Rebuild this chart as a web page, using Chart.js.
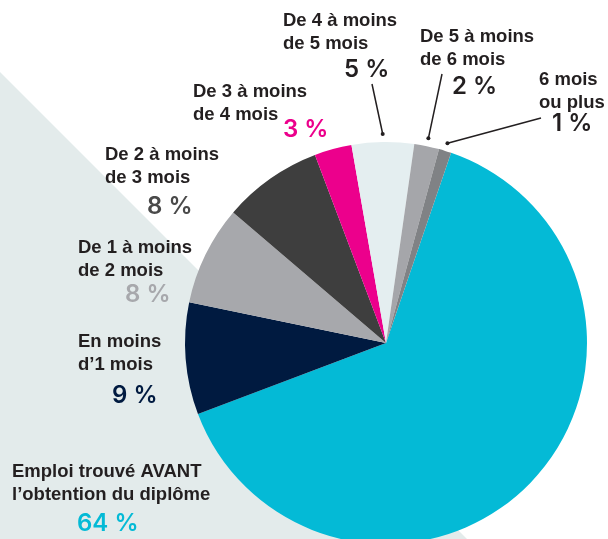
<!DOCTYPE html>
<html>
<head>
<meta charset="utf-8">
<script src="https://cdn.jsdelivr.net/npm/chart.js@4/dist/chart.umd.min.js"></script>
<style>
  html, body { margin: 0; padding: 0; background: #fff; overflow: hidden; }
  #wrap { width: 608px; height: 539px; overflow: hidden; position: relative; }
  canvas { display: block; }
</style>
</head>
<body>
<div id="wrap"><canvas id="myChart" width="608" height="560"></canvas></div>
<script>
// data, clockwise from the cyan slice
const categories = [
    "Emploi trouvé AVANT\nl’obtention du diplôme",
    "En moins\nd’1 mois",
    "De 1 à moins\nde 2 mois",
    "De 2 à moins\nde 3 mois",
    "De 3 à moins\nde 4 mois",
    "De 4 à moins\nde 5 mois",
    "De 5 à moins\nde 6 mois",
    "6 mois\nou plus",
];
const shares = [64, 9, 8, 8, 3, 5, 2, 1];

const sliceColors = ["#04BAD6", "#001A40", "#A7A8AC", "#3E3E3E", "#EC008C", "#E4EEF0", "#A5A6AA", "#808285"];
const valueColors = ["#04BAD6", "#001A40", "#A7A8AC", "#4A4A4A", "#EC008C", "#231F20", "#231F20", "#231F20"];

// where each label sits (left x, middle of first line, value left x, value middle y)
const labelPos = [
    { x: 12, y: 472, vx: 77, vy: 524 },
    { x: 78, y: 342, vx: 112, vy: 396 },
    { x: 78, y: 248, vx: 125, vy: 295 },
    { x: 105, y: 155, vx: 147, vy: 207 },
    { x: 193, y: 92, vx: 283, vy: 130 },
    { x: 283, y: 21, vx: 344, vy: 70, lead: [372, 84] },
    { x: 420, y: 37, vx: 452, vy: 87, lead: [442, 74] },
    { x: 539, y: 80, vx: 552, vy: 124, lead: [541, 118] },
];

const bgPlugin = {
    id: "bg",
    beforeDraw(chart) {
        const c = chart.ctx;
        c.save();
        c.fillStyle = "#E3EBEB";
        c.beginPath();
        c.moveTo(0, 72);
        c.lineTo(488, 560);
        c.lineTo(0, 560);
        c.closePath();
        c.fill();
        c.restore();
    },
};

const labelPlugin = {
    id: "labels",
    afterDraw(chart) {
        const c = chart.ctx;
        const arcs = chart.getDatasetMeta(0).data;
        c.save();
        c.textBaseline = "middle";
        c.textAlign = "left";
        categories.forEach((name, i) => {
            const p = labelPos[i];
            c.fillStyle = "#231F20";
            c.font = "bold 18.5px 'Liberation Sans', Arial, sans-serif";
            name.split("\n").forEach((line, k) => c.fillText(line, p.x, p.y + k * 22.5));
            c.fillStyle = valueColors[i];
            c.font = "600 24px Inter, sans-serif";
            c.fillText(shares[i] + " %", p.vx, p.vy);
            if (p.lead) {
                const a = arcs[i];
                const mid = (a.startAngle + a.endAngle) / 2;
                const ex = a.x + Math.cos(mid) * (a.outerRadius + 8);
                const ey = a.y + Math.sin(mid) * (a.outerRadius + 8);
                c.strokeStyle = "#231F20";
                c.lineWidth = 1.5;
                c.beginPath();
                c.moveTo(p.lead[0], p.lead[1]);
                c.lineTo(ex, ey);
                c.stroke();
                c.fillStyle = "#231F20";
                c.beginPath();
                c.arc(ex, ey, 2, 0, Math.PI * 2);
                c.fill();
            }
        });
        c.restore();
    },
};

var ctx = document.getElementById("myChart");
var myChart = new Chart(ctx, {
    type: "pie",
    data: {
        labels: categories,
        datasets: [
            {
                data: shares,
                backgroundColor: sliceColors,
                borderWidth: 0,
            },
        ],
    },
    options: {
        responsive: false,
        animation: false,
        rotation: 18.9,
        layout: {
            padding: { left: 185, right: 21, top: 142, bottom: 16 },
        },
        plugins: {
            legend: { display: false },
            tooltip: { enabled: false },
        },
    },
    plugins: [bgPlugin, labelPlugin],
});
</script>
</body>
</html>
